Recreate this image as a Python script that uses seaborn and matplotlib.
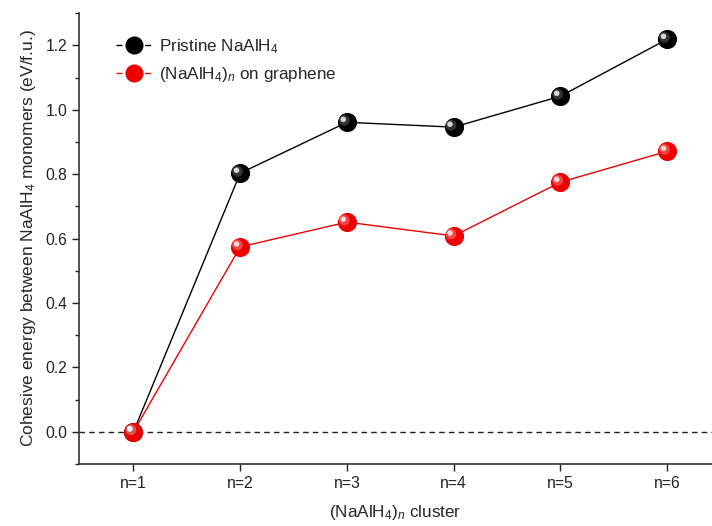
import matplotlib
matplotlib.use('Agg')
import matplotlib.pyplot as plt
import seaborn as sns
import pandas as pd
import numpy as np
from matplotlib.ticker import MultipleLocator, FormatStrFormatter
from matplotlib.lines import Line2D

# data
clusters = ['n=1', 'n=2', 'n=3', 'n=4', 'n=5', 'n=6']
pristine = [0.0, 0.803, 0.961, 0.946, 1.042, 1.219]
on_graphene = [0.0, 0.574, 0.651, 0.608, 0.775, 0.871]

sns.set_style('ticks')
plt.rcParams['font.family'] = ['Liberation Sans', 'DejaVu Sans']
plt.rcParams['mathtext.fontset'] = 'custom'
plt.rcParams['mathtext.rm'] = 'Liberation Sans'
plt.rcParams['mathtext.it'] = 'Liberation Sans:italic'

df = pd.DataFrame({'x': np.arange(1, 7), 'pristine': pristine, 'graphene': on_graphene})

fig = plt.figure(figsize=(7.12, 5.26), dpi=100)
ax = fig.add_axes([0.111, 0.118, 0.889, 0.857])

ax.axhline(0, color='#222222', ls='--', lw=1.0, dashes=(4, 3), zorder=1)

series = [('pristine', 'black', '#555555', 'Pristine NaAlH$_4$'),
          ('graphene', '#ee0000', '#ff7070', '(NaAlH$_4$)$_n$ on graphene')]
handles = []
for col, color, light, lab in series:
    sns.lineplot(data=df, x='x', y=col, ax=ax, color=color, lw=1.0,
                 marker='o', markersize=13, markeredgecolor=color,
                 markerfacecolor=color, legend=False, zorder=3)
    # glossy shading to imitate the sphere markers
    ax.scatter(df['x'] - 0.025, df[col] + 0.006, s=60, color=light,
               alpha=0.6, edgecolors='none', zorder=4)
    ax.scatter(df['x'] - 0.035, df[col] + 0.009, s=16, color='white',
               alpha=0.8, edgecolors='none', zorder=5)
    handles.append(Line2D([], [], color=color, lw=1.0, dashes=(4.3, 16.4),
                          marker='o', markersize=12, markerfacecolor=color,
                          markeredgecolor=color, label=lab))

ax.set_xlim(0.49, 6.42)
ax.set_ylim(-0.1, 1.3)
ax.set_xticks(df['x'])
ax.set_xticklabels(clusters)
ax.yaxis.set_major_locator(MultipleLocator(0.2))
ax.yaxis.set_minor_locator(MultipleLocator(0.1))
ax.yaxis.set_major_formatter(FormatStrFormatter('%.1f'))
ax.tick_params(axis='both', which='major', length=5, width=1, labelsize=11.3,
               direction='out', colors='#222222')
ax.tick_params(axis='y', which='minor', length=3, width=1, colors='#222222')
ax.tick_params(axis='x', pad=4)

sns.despine(ax=ax)
for s in ['left', 'bottom']:
    ax.spines[s].set_linewidth(1.2)
    ax.spines[s].set_color('#333333')

ax.set_xlabel('(NaAlH$_4$)$_n$ cluster', fontsize=12.3, labelpad=8)
ax.set_ylabel('Cohesive energy between NaAlH$_4$ monomers (eV/f.u.)', fontsize=12.5, labelpad=5)

ax.legend(handles=handles, loc='upper left', frameon=False, fontsize=12.3,
          handlelength=2.08, handletextpad=0.4, borderaxespad=0,
          labelspacing=0.55, bbox_to_anchor=(0.048, 0.962))

fig.savefig('out.png', dpi=100)
